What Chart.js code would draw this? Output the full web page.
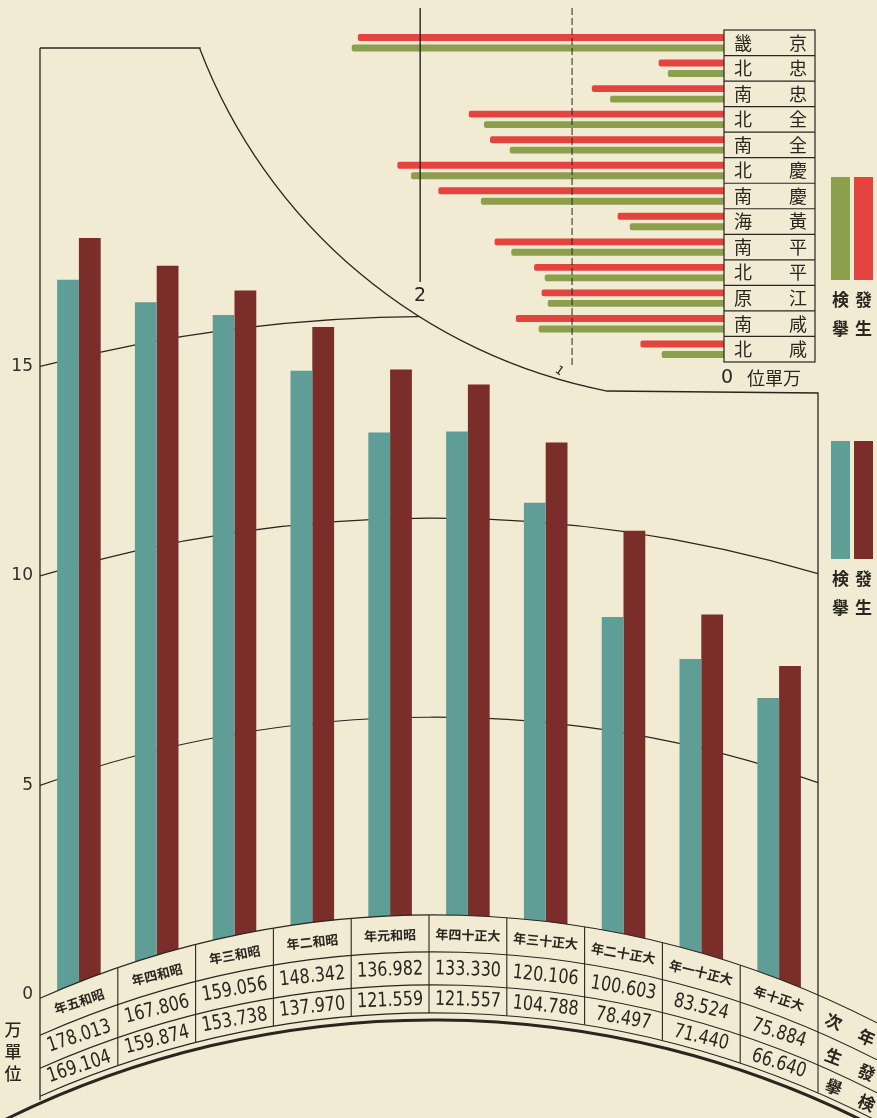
<!DOCTYPE html>
<html lang="ja">
<head>
<meta charset="utf-8">
<title>犯罪發生檢擧</title>
<script src="https://cdn.jsdelivr.net/npm/chart.js@4.4.1/dist/chart.umd.min.js"></script>
<style>
  html, body { margin: 0; padding: 0; background: #f0ebd2; }
  #wrap { position: relative; width: 877px; height: 1118px; overflow: hidden; }
  #wrap canvas { position: absolute; left: 0; top: 0; }
</style>
</head>
<body>
<div id="wrap">
  <canvas id="mainChart" width="877" height="1118"></canvas>
  <canvas id="provChart" width="877" height="1118"></canvas>
</div>
<script>
// years, written right to left on the sheet
const years = ['昭和五年', '昭和四年', '昭和三年', '昭和二年', '昭和元年',
               '大正十四年', '大正十三年', '大正十二年', '大正十一年', '大正十年'];
const occurred = [178013, 167806, 159056, 148342, 136982, 133330, 120106, 100603, 83524, 75884];
const arrested = [169104, 159874, 153738, 137970, 121559, 121557, 104788, 78497, 71440, 66640];
const yTicks = [0, 5, 10, 15];
const rowNames = ['年次', '發生', '検擧'];
const unitName = '万單位';

// provinces (万)
const provinces = ['京畿', '忠北', '忠南', '全北', '全南', '慶北', '慶南', '黃海', '平南', '平北', '江原', '咸南', '咸北'];
const provOccurred = [2.41, 0.43, 0.87, 1.68, 1.54, 2.15, 1.88, 0.70, 1.51, 1.25, 1.20, 1.37, 0.55];
const provArrested = [2.45, 0.37, 0.75, 1.58, 1.41, 2.06, 1.60, 0.62, 1.40, 1.18, 1.16, 1.22, 0.41];
const provTicks = [1, 2];

const PAPER = '#f0ebd2';
const INK = '#29261f';
const TEAL = '#5f9e97';
const MAROON = '#7b2d29';
const RED = '#e4433e';
const OLIVE = '#8c9f4c';

const fmt = n => (n / 1000).toFixed(3);
const rev = s => [...s].reverse().join('');

// the value arcs all share one centre far below the table
function fan(chart) {
    const x = chart.scales.x, y = chart.scales.y, a = chart.chartArea;
    const cx = x.getPixelForValue(4.55);
    const cy = y.getPixelForValue(0) + 887;
    const r = v => Math.hypot(cy - y.getPixelForValue(v), cx - a.left);
    const yAt = (rad, px) => cy - Math.sqrt(rad * rad - (px - cx) * (px - cx));
    const ang = (rad, px) => Math.atan2(yAt(rad, px) - cy, px - cx);
    return { cx, cy, r, yAt, ang };
}

// border between the main plot and the province inset (a circle arc)
const edge = { cx: 711, cy: -146, r: 547, x1: 200, x2: 607, shelf: 393 };
function frontier(ctx, a) {
    const a1 = Math.atan2(Math.sqrt(edge.r ** 2 - (edge.x1 - edge.cx) ** 2), edge.x1 - edge.cx);
    const a2 = Math.atan2(Math.sqrt(edge.r ** 2 - (edge.x2 - edge.cx) ** 2), edge.x2 - edge.cx);
    ctx.moveTo(a.left, a.top);
    ctx.lineTo(edge.x1, a.top);
    ctx.arc(edge.cx, edge.cy, edge.r, a1, a2, true);
    ctx.lineTo(a.right, edge.shelf);
}

// table rows: the top arc shifted down by each row offset
function table(f) {
    const R0 = f.r(0) - 3;
    const lineY = (d, px) => f.cy + d - Math.sqrt(R0 * R0 - (px - f.cx) * (px - f.cx));
    const ang = px => Math.atan2(-Math.sqrt(R0 * R0 - (px - f.cx) * (px - f.cx)), px - f.cx);
    return { R0, lineY, ang, D: [0, 37, 70, 98] };
}

function curvedText(ctx, f, t, text, px, d, font, sx) {
    const py = t.lineY(d, px);
    const rot = Math.asin((px - f.cx) / t.R0) * 0.85;
    ctx.save();
    ctx.translate(px, py);
    ctx.rotate(rot);
    ctx.scale(sx, 1);
    ctx.font = font;
    ctx.textAlign = 'center';
    ctx.textBaseline = 'middle';
    ctx.fillStyle = INK;
    ctx.fillText(text, 0, 1);
    ctx.restore();
}

function drawKey(ctx, chart, top, h) {
    ['検擧', '發生'].forEach((name, k) => {
        const ds = chart.data.datasets.find(d => d.label === name);
        const left = 831 + k * 23;
        ctx.fillStyle = ds.backgroundColor;
        ctx.fillRect(left, top, 19, h);
        ctx.fillStyle = INK;
        ctx.font = 'bold 17px "Noto Sans CJK JP"';
        ctx.textAlign = 'center';
        ctx.textBaseline = 'middle';
        [...name].forEach((ch, c) => ctx.fillText(ch, left + 9.5, top + h + 20 + c * 29));
    });
}

const tableDecor = {
    id: 'tableDecor',
    beforeDatasetsDraw(chart) {
        const { ctx, chartArea: a } = chart;
        const f = fan(chart);
        ctx.save();
        ctx.beginPath();
        frontier(ctx, a);
        ctx.lineTo(a.right, chart.height);
        ctx.lineTo(a.left, chart.height);
        ctx.closePath();
        ctx.clip();
        ctx.strokeStyle = INK;
        ctx.lineWidth = 1.2;
        yTicks.slice(1).forEach(v => {
            const R = f.r(v);
            ctx.beginPath();
            ctx.arc(f.cx, f.cy, R, f.ang(R, a.left), f.ang(R, a.right));
            ctx.stroke();
        });
        ctx.restore();

        ctx.save();
        ctx.strokeStyle = INK;
        ctx.lineWidth = 1.3;
        ctx.beginPath();
        frontier(ctx, a);
        ctx.lineTo(a.right, a.bottom);
        ctx.stroke();
        ctx.restore();
    },
    afterDatasetsDraw(chart) {
        const { ctx, chartArea: a, scales: { x } } = chart;
        const f = fan(chart);
        const t = table(f);
        const D = t.D;
        const W = chart.width, H = chart.height;

        ctx.save();
        // table covers the feet of the bars
        ctx.fillStyle = PAPER;
        ctx.beginPath();
        ctx.arc(f.cx, f.cy, t.R0, t.ang(a.left), t.ang(W));
        ctx.lineTo(W, H);
        ctx.lineTo(a.left, H);
        ctx.closePath();
        ctx.fill();

        ctx.strokeStyle = INK;
        ctx.lineWidth = 1.1;
        D.forEach(d => {
            ctx.beginPath();
            ctx.arc(f.cx, f.cy + d, t.R0, t.ang(a.left), t.ang(W));
            ctx.stroke();
        });
        ctx.lineWidth = 3;
        ctx.beginPath();
        ctx.arc(f.cx, f.cy + D[3] + 7, t.R0, t.ang(0), t.ang(W));
        ctx.stroke();

        ctx.lineWidth = 1.1;
        for (let i = 1; i <= years.length; i++) {
            const bx = i === years.length ? a.right : (x.getPixelForValue(i - 1) + x.getPixelForValue(i)) / 2;
            ctx.beginPath();
            ctx.moveTo(bx, t.lineY(D[0], bx));
            ctx.lineTo(bx, t.lineY(D[3], bx));
            ctx.stroke();
        }
        ctx.lineWidth = 1.3;
        ctx.beginPath();
        ctx.moveTo(a.left, a.top);
        ctx.lineTo(a.left, t.lineY(D[3] + 4, a.left));
        ctx.stroke();

        const mid = j => (D[j] + D[j + 1]) / 2;
        years.forEach((yr, i) => {
            const px = x.getPixelForValue(i);
            curvedText(ctx, f, t, rev(yr), px, mid(0), 'bold 13px "Noto Sans CJK JP"', 1);
            curvedText(ctx, f, t, fmt(occurred[i]), px, mid(1), '20px "DejaVu Sans"', 0.8);
            curvedText(ctx, f, t, fmt(arrested[i]), px, mid(2), '20px "DejaVu Sans"', 0.8);
        });
        rowNames.forEach((name, j) => {
            curvedText(ctx, f, t, name[1], a.right + 16, mid(j), 'bold 17px "Noto Sans CJK JP"', 1);
            curvedText(ctx, f, t, name[0], a.right + 49, mid(j), 'bold 17px "Noto Sans CJK JP"', 1);
        });

        ctx.fillStyle = INK;
        ctx.font = '500 17px "Noto Sans CJK JP"';
        ctx.textAlign = 'center';
        ctx.textBaseline = 'middle';
        [...unitName].forEach((ch, k) => ctx.fillText(ch, a.left - 27, a.bottom + 35 + k * 22));

        drawKey(ctx, chart, 441, 118);
        ctx.restore();
    }
};

const mainChart = new Chart(document.getElementById('mainChart'), {
    type: 'bar',
    data: {
        labels: years,
        datasets: [
            { label: '検擧', data: arrested.map(n => n / 10000), backgroundColor: TEAL, categoryPercentage: 0.56, barPercentage: 1 },
            { label: '發生', data: occurred.map(n => n / 10000), backgroundColor: MAROON, categoryPercentage: 0.56, barPercentage: 1 }
        ]
    },
    options: {
        responsive: false,
        animation: false,
        layout: { padding: { left: 0, right: 59, top: 48, bottom: 123 } },
        scales: {
            x: { display: false },
            y: {
                min: 0,
                max: 22.6,
                grid: { display: false, drawTicks: false },
                border: { display: false },
                ticks: { padding: 7, color: '#33302b', font: { family: 'DejaVu Sans', size: 17 } },
                afterBuildTicks: s => { s.ticks = yTicks.map(v => ({ value: v })); },
                afterFit: s => { s.width = 40; }
            }
        },
        plugins: { legend: { display: false }, tooltip: { enabled: false } }
    },
    plugins: [tableDecor]
});

// second pass: lift each bar top onto the arc of its value
const f0 = fan(mainChart);
const yScale = mainChart.scales.y;
[arrested, occurred].forEach((src, di) => {
    const meta = mainChart.getDatasetMeta(di);
    mainChart.data.datasets[di].data = src.map((n, i) =>
        yScale.getValueForPixel(f0.yAt(f0.r(n / 10000), meta.data[i].x)));
});
mainChart.update('none');

const provDecor = {
    id: 'provDecor',
    afterDatasetsDraw(chart) {
        const { ctx, chartArea: a, scales: { x, y } } = chart;
        ctx.save();
        ctx.strokeStyle = INK;
        provTicks.forEach(v => {
            const px = x.getPixelForValue(v);
            ctx.lineWidth = v === 2 ? 1.4 : 1;
            ctx.setLineDash(v === 2 ? [] : [7, 3]);
            ctx.beginPath();
            ctx.moveTo(px, 8);
            ctx.lineTo(px, v === 2 ? 282 : 368);
            ctx.stroke();
        });
        ctx.setLineDash([]);
        ctx.fillStyle = INK;
        ctx.textAlign = 'center';
        ctx.textBaseline = 'middle';
        ctx.font = '19px "DejaVu Sans"';
        ctx.fillText('2', x.getPixelForValue(2), 296);
        ctx.save();
        ctx.translate(x.getPixelForValue(1) - 13, 371);
        ctx.rotate(0.6);
        ctx.font = '12px "DejaVu Sans"';
        ctx.fillText('1', 0, 0);
        ctx.restore();

        const x0 = x.getPixelForValue(0);
        ctx.lineWidth = 1.2;
        ctx.strokeRect(x0, a.top, 91, a.bottom - a.top);
        ctx.font = '18px "Noto Sans CJK JP"';
        provinces.forEach((name, i) => {
            const cy = y.getPixelForValue(i);
            if (i > 0) {
                const by = (y.getPixelForValue(i - 1) + cy) / 2;
                ctx.beginPath();
                ctx.moveTo(x0, by);
                ctx.lineTo(x0 + 91, by);
                ctx.stroke();
            }
            ctx.fillText(name[1], x0 + 19, cy);
            ctx.fillText(name[0], x0 + 74, cy);
        });
        ctx.font = '19px "DejaVu Sans"';
        ctx.fillText('0', x0 + 3, a.bottom + 16);
        ctx.font = '18px "Noto Sans CJK JP"';
        ctx.fillText(rev(unitName), x0 + 50, a.bottom + 16);

        drawKey(ctx, chart, 177, 103);
        ctx.restore();
    }
};

new Chart(document.getElementById('provChart'), {
    type: 'bar',
    data: {
        labels: provinces,
        datasets: [
            { label: '發生', data: provOccurred, backgroundColor: RED, categoryPercentage: 0.82, barPercentage: 0.66, borderRadius: 2 },
            { label: '検擧', data: provArrested, backgroundColor: OLIVE, categoryPercentage: 0.82, barPercentage: 0.66, borderRadius: 2 }
        ]
    },
    options: {
        indexAxis: 'y',
        responsive: false,
        animation: false,
        layout: { padding: { left: 329, right: 153, top: 30, bottom: 756 } },
        scales: {
            x: { display: false, reverse: true, min: 0, max: 2.6 },
            y: { display: false }
        },
        plugins: { legend: { display: false }, tooltip: { enabled: false } }
    },
    plugins: [provDecor]
});
</script>
</body>
</html>
